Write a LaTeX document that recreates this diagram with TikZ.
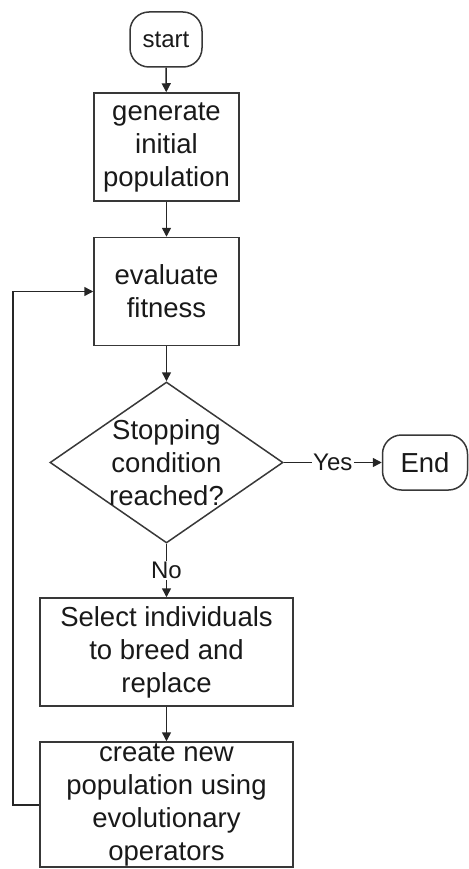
\documentclass[tikz,border=0pt]{standalone}
\usepackage{fontspec}
\setmainfont{Liberation Sans}
\usetikzlibrary{shapes.geometric,arrows.meta}
\begin{document}
\begin{tikzpicture}[x=1pt,y=-1pt,
  line width=1.5pt,
  every node/.style={font=\fontsize{27.5}{33}\selectfont, text=black!90},
  shapeline/.style={draw=black!78},
  terminal/.style={shapeline, rounded corners=19pt, minimum height=55pt, inner sep=0pt},
  process/.style={shapeline, rectangle, inner sep=0pt},
  decision/.style={shapeline, diamond, aspect=1.45, inner sep=0pt,
                   minimum width=233pt, minimum height=161pt},
  boxtext/.style={align=center, inner sep=0pt},
  flow/.style={draw=black!85, -{Triangle[length=9pt,width=9pt]}},
  edgelabel/.style={fill=white, inner sep=1.5pt, font=\fontsize{24}{28}\selectfont}
]
\useasboundingbox (0,0) rectangle (468,869);

% terminals
\node[terminal, minimum width=72pt, font=\fontsize{24}{28}\selectfont] (start) at (166,39.5) {start};
\node[terminal, minimum width=85pt] (end) at (425,462.5) {End};

% process boxes (text set separately so it may overflow the frame)
\node[process, minimum width=145pt, minimum height=108pt] (gen) at (166.5,147) {};
\node[boxtext] (gentext) at (gen.center) {generate\\initial\\population};

\node[process, minimum width=145pt, minimum height=108pt] (eval) at (166.5,291.5) {};
\node[boxtext] (evaltext) at (eval.center) {evaluate\\fitness};

\node[decision] (stop) at (166.5,462.5) {};
\node[boxtext] (stoptext) at (stop.center) {Stopping\\condition\\reached?};

\node[process, minimum width=253pt, minimum height=108pt] (sel) at (166.5,652) {};
\node[boxtext] (seltext) at (sel.center) {Select individuals\\to breed and\\replace};

\node[process, minimum width=253pt, minimum height=125pt] (create) at (166.5,804.5) {};
\node[boxtext] (createtext) at (create.center) {create new\\population using\\evolutionary\\operators};

% connectors
\draw[flow] (start) -- (gen);
\draw[flow] (gen) -- (eval);
\draw[flow] (eval) -- (stop.north);
\draw[flow] (stop.east) -- node[edgelabel] (yes) {Yes} (end);
\draw[flow] (stop.south) -- node[edgelabel] (no) {No} (sel);
\draw[flow] (sel) -- (create);

% feedback loop
\coordinate (loopbottom) at (13,805);
\coordinate (looptop) at (13,291.5);
\draw[flow] (create.west |- loopbottom) -- (loopbottom) -- (looptop) -- (eval.west |- looptop);
\end{tikzpicture}
\end{document}
